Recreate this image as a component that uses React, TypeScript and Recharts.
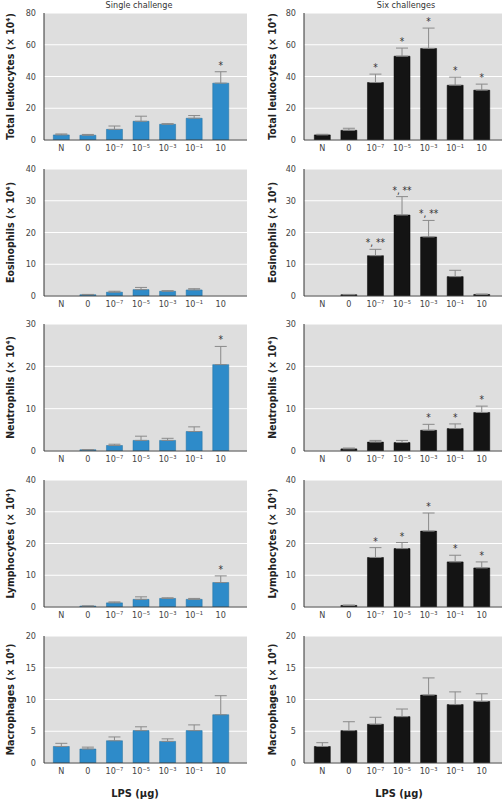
import React from "react";
import { ComposedChart, Bar, Line, XAxis, YAxis, CartesianGrid, ErrorBar, LabelList } from "recharts";

const doses = ["N", "0", "10⁻⁷", "10⁻⁵", "10⁻³", "10⁻¹", "10"];

// single challenge (blue)
const leukSingle = [3.2, 3.0, 6.7, 11.8, 9.9, 13.7, 35.8];
const leukSingleErr = [0.6, 0.5, 2.1, 3.2, 0.4, 1.7, 7.2];
const leukSingleSig = ["", "", "", "", "", "", "*"];

const eosSingle = [0, 0.4, 1.2, 2.0, 1.5, 1.9, 0];
const eosSingleErr = [0, 0.1, 0.3, 0.7, 0.2, 0.4, 0];
const eosSingleSig = ["", "", "", "", "", "", ""];

const neuSingle = [0, 0.3, 1.3, 2.5, 2.5, 4.6, 20.4];
const neuSingleErr = [0, 0, 0.3, 1.0, 0.5, 1.1, 4.3];
const neuSingleSig = ["", "", "", "", "", "", "*"];

const lymSingle = [0, 0.3, 1.3, 2.4, 2.7, 2.4, 7.7];
const lymSingleErr = [0, 0, 0.3, 0.8, 0.2, 0.3, 2.1];
const lymSingleSig = ["", "", "", "", "", "", "*"];

const macSingle = [2.6, 2.2, 3.5, 5.1, 3.4, 5.1, 7.6];
const macSingleErr = [0.5, 0.3, 0.6, 0.6, 0.4, 0.9, 3.0];
const macSingleSig = ["", "", "", "", "", "", ""];

// six challenges (black)
const leukSix = [3.2, 6.1, 36.2, 52.8, 57.7, 34.5, 31.4];
const leukSixErr = [0.4, 1.3, 5.3, 5.1, 12.8, 5.1, 3.8];
const leukSixSig = ["", "", "*", "*", "*", "*", "*"];

const eosSix = [0, 0.4, 12.7, 25.5, 18.6, 6.1, 0.5];
const eosSixErr = [0, 0.1, 2.0, 5.8, 5.2, 2.0, 0.1];
const eosSixSig = ["", "", "*, **", "*, **", "*, **", "", ""];

const neuSix = [0, 0.5, 2.1, 2.0, 4.9, 5.3, 9.1];
const neuSixErr = [0, 0.2, 0.4, 0.5, 1.4, 1.1, 1.5];
const neuSixSig = ["", "", "", "", "*", "*", "*"];

const lymSix = [0, 0.5, 15.6, 18.4, 23.9, 14.2, 12.3];
const lymSixErr = [0, 0.1, 3.1, 1.9, 5.7, 2.1, 1.9];
const lymSixSig = ["", "", "*", "*", "*", "*", "*"];

const macSix = [2.6, 5.1, 6.1, 7.3, 10.7, 9.2, 9.7];
const macSixErr = [0.6, 1.4, 1.1, 1.2, 2.7, 2.0, 1.2];
const macSixSig = ["", "", "", "", "", "", ""];

const rowTops = [0, 156, 311, 467, 623];

const FONT = '"Liberation Sans Narrow", "DejaVu Sans Condensed", "Liberation Sans", sans-serif';

type PanelProps = {
  values: number[];
  errs: number[];
  sigs: string[];
  max: number;
  ticks: number[];
  label: string;
  fill: string;
  left: number;
  top: number;
  right?: boolean;
};

function Panel({ values, errs, sigs, max, ticks, label, fill, left, top, right }: PanelProps) {
  const data = doses.map((d, i) => ({
    dose: d,
    value: values[i],
    err: [0, errs[i]],
    top: values[i] + errs[i],
    sig: sigs[i],
  }));
  const width = right ? 251 : 252;
  return (
    <div style={{ position: "absolute", left, top }}>
      <ComposedChart
        width={width}
        height={156}
        data={data}
        margin={{ top: 13, right: right ? 1 : 5, bottom: 0, left: 0 }}
        barCategoryGap="20%"
      >
        <CartesianGrid vertical={false} fill="#dedede" fillOpacity={1} stroke="#ffffff" strokeWidth={1} />
        <XAxis
          dataKey="dose"
          height={16}
          interval={0}
          tickLine={false}
          tickSize={3}
          axisLine={{ stroke: "#444" }}
          tick={{ fontSize: 9, fill: "#444" }}
          padding={right ? { left: 5, right: 7 } : { left: 4, right: 13 }}
        />
        <YAxis
          width={right ? 52 : 44}
          domain={[0, max]}
          ticks={ticks}
          interval={0}
          tickLine={false}
          axisLine={{ stroke: "#333" }}
          tick={{ fontSize: 9, fill: "#444" }}
          allowDataOverflow
          label={{
            value: label,
            angle: -90,
            position: "insideLeft",
            offset: right ? 20 : 10,
            style: { textAnchor: "middle", fontWeight: "bold", fontSize: 10.5, fill: "#222" },
          }}
        />
        <Bar dataKey="value" fill={fill} stroke={right ? "#000" : "#1f6f9e"} strokeWidth={0.5} isAnimationActive={false}>
          <ErrorBar dataKey="err" width={6} stroke="#8a8a8a" strokeWidth={1} direction="y" />
        </Bar>
        <Line dataKey="top" stroke="none" dot={false} activeDot={false} isAnimationActive={false}>
          <LabelList dataKey="sig" position="top" offset={3} fontSize={10} fill="#333" />
        </Line>
      </ComposedChart>
    </div>
  );
}

export default function App() {
  const blue = "#2e8bc9";
  const black = "#141414";
  return (
    <div style={{ position: "absolute", left: 0, top: 0, width: 503, height: 800, background: "#fff", fontFamily: FONT }}>
      <div style={{ position: "absolute", left: 89, top: 0, width: 100, textAlign: "center", fontSize: 9, color: "#333" }}>
        Single challenge
      </div>
      <div style={{ position: "absolute", left: 356, top: 0, width: 100, textAlign: "center", fontSize: 9, color: "#333" }}>
        Six challenges
      </div>

      <Panel values={leukSingle} errs={leukSingleErr} sigs={leukSingleSig} max={80} ticks={[0, 20, 40, 60, 80]}
        label="Total leukocytes (× 10⁴)" fill={blue} left={0} top={rowTops[0]} />
      <Panel values={leukSix} errs={leukSixErr} sigs={leukSixSig} max={80} ticks={[0, 20, 40, 60, 80]}
        label="Total leukocytes (× 10⁴)" fill={black} left={252} top={rowTops[0]} right />

      <Panel values={eosSingle} errs={eosSingleErr} sigs={eosSingleSig} max={40} ticks={[0, 10, 20, 30, 40]}
        label="Eosinophils (× 10⁴)" fill={blue} left={0} top={rowTops[1]} />
      <Panel values={eosSix} errs={eosSixErr} sigs={eosSixSig} max={40} ticks={[0, 10, 20, 30, 40]}
        label="Eosinophils (× 10⁴)" fill={black} left={252} top={rowTops[1]} right />

      <Panel values={neuSingle} errs={neuSingleErr} sigs={neuSingleSig} max={30} ticks={[0, 10, 20, 30]}
        label="Neutrophils (× 10⁴)" fill={blue} left={0} top={rowTops[2]} />
      <Panel values={neuSix} errs={neuSixErr} sigs={neuSixSig} max={30} ticks={[0, 10, 20, 30]}
        label="Neutrophils (× 10⁴)" fill={black} left={252} top={rowTops[2]} right />

      <Panel values={lymSingle} errs={lymSingleErr} sigs={lymSingleSig} max={40} ticks={[0, 10, 20, 30, 40]}
        label="Lymphocytes (× 10⁴)" fill={blue} left={0} top={rowTops[3]} />
      <Panel values={lymSix} errs={lymSixErr} sigs={lymSixSig} max={40} ticks={[0, 10, 20, 30, 40]}
        label="Lymphocytes (× 10⁴)" fill={black} left={252} top={rowTops[3]} right />

      <Panel values={macSingle} errs={macSingleErr} sigs={macSingleSig} max={20} ticks={[0, 5, 10, 15, 20]}
        label="Macrophages (× 10⁴)" fill={blue} left={0} top={rowTops[4]} />
      <Panel values={macSix} errs={macSixErr} sigs={macSixSig} max={20} ticks={[0, 5, 10, 15, 20]}
        label="Macrophages (× 10⁴)" fill={black} left={252} top={rowTops[4]} right />

      <div style={{ position: "absolute", left: 85, top: 787, width: 100, textAlign: "center", fontSize: 11, fontWeight: "bold", color: "#222" }}>
        LPS (µg)
      </div>
      <div style={{ position: "absolute", left: 349, top: 787, width: 100, textAlign: "center", fontSize: 11, fontWeight: "bold", color: "#222" }}>
        LPS (µg)
      </div>
    </div>
  );
}
